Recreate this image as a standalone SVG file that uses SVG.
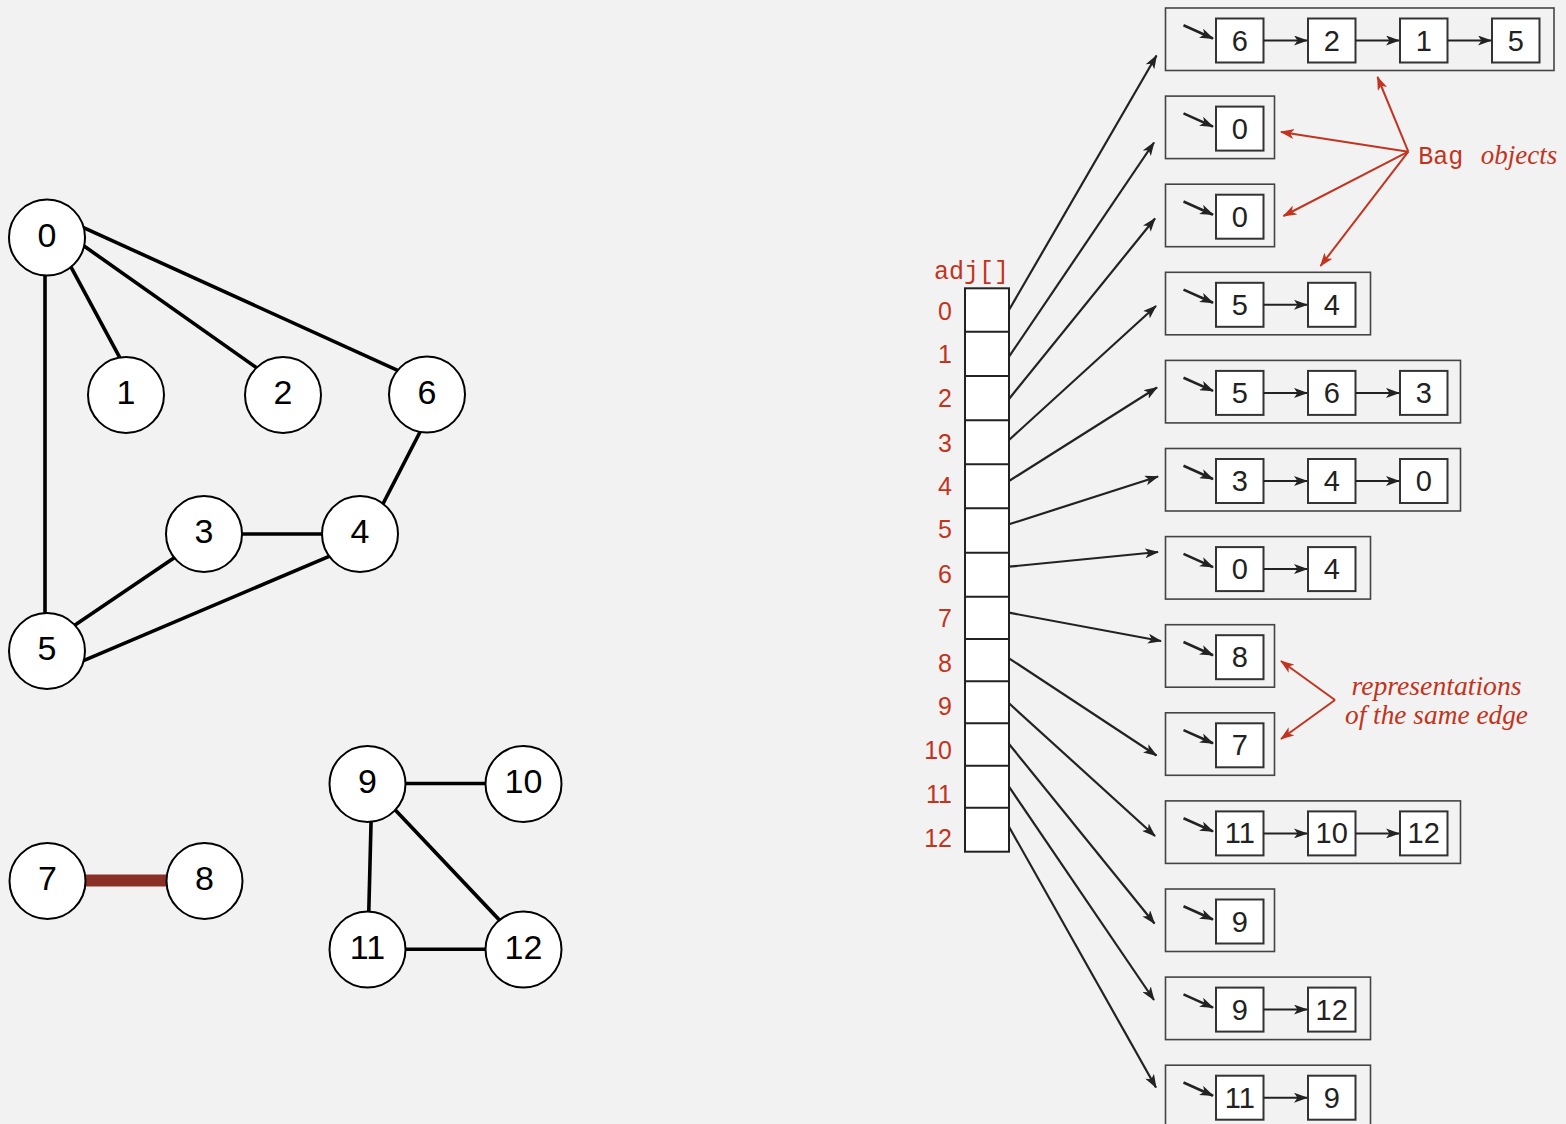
<svg xmlns="http://www.w3.org/2000/svg" width="1566" height="1124" viewBox="0 0 1566 1124">
<defs>
<marker id="ab" viewBox="0 0 14 10" refX="13" refY="5" markerWidth="14" markerHeight="10" orient="auto" markerUnits="userSpaceOnUse"><path d="M0,0 L14,5 L0,10 L3.5,5 z" fill="#222"/></marker>
<marker id="ar" viewBox="0 0 14 10" refX="13" refY="5" markerWidth="14" markerHeight="10" orient="auto" markerUnits="userSpaceOnUse"><path d="M0,0 L14,5 L0,10 L3.5,5 z" fill="#c23420"/></marker>
<style>
.edge{stroke:#000;stroke-width:3.6;fill:none}
.nc{fill:#fff;stroke:#000;stroke-width:2}
.nl{font-family:"Liberation Sans",Arial,sans-serif;font-size:34px;text-anchor:middle;fill:#000}
.cell{fill:#fff;stroke:#222;stroke-width:2}
.idx{font-family:"Liberation Sans",Arial,sans-serif;font-size:25px;text-anchor:end;fill:#c23420}
.mono{font-family:"Liberation Mono","Courier New",monospace;font-size:25px;fill:#c23420}
.it{font-family:"Liberation Serif","Times New Roman",serif;font-style:italic;font-size:27px;fill:#c23420}
.conn{stroke:#222;stroke-width:2.2;fill:none;marker-end:url(#ab)}
.red{stroke:#c23420;stroke-width:2;fill:none;marker-end:url(#ar)}
.outer{fill:none;stroke:#444;stroke-width:1.6}
.box{fill:#fff;stroke:#333;stroke-width:2}
.bt{font-family:"Liberation Sans",Arial,sans-serif;font-size:29px;text-anchor:middle;fill:#222}
.in{stroke:#222;stroke-width:2;fill:none;marker-end:url(#ab)}
.ent{stroke:#222;stroke-width:2.6;fill:none;marker-end:url(#ab)}
</style>
</defs>
<rect x="0" y="0" width="1566" height="1124" fill="#f2f2f2"/>

<g id="graph-edges">
<line class="edge" x1="64.6" y1="255.1" x2="126.4" y2="369.9"/>
<line class="edge" x1="72.7" y1="238" x2="267.3" y2="375.4"/>
<line class="edge" x1="71.4" y1="222.1" x2="410.3" y2="376.2"/>
<line class="edge" x1="45" y1="260" x2="45" y2="630"/>
<line class="edge" x1="426.2" y1="420" x2="376.4" y2="516.6"/>
<line class="edge" x1="230" y1="534" x2="335" y2="534"/>
<line class="edge" x1="185.7" y1="549.9" x2="63.6" y2="632.7"/>
<line class="edge" x1="342.1" y1="550.8" x2="71.2" y2="665.9"/>
<line x1="65" y1="880.5" x2="185" y2="880.5" stroke="#8b3026" stroke-width="12"/>
<line class="edge" x1="390" y1="783.5" x2="500" y2="783.5"/>
<line class="edge" x1="371.4" y1="808" x2="368.4" y2="927"/>
<line class="edge" x1="385.6" y1="799.8" x2="509.7" y2="930.9"/>
<line class="edge" x1="390" y1="949.3" x2="500" y2="949.3"/>
</g>

<g id="v0"><circle class="nc" cx="47" cy="237.5" r="38"/><text class="nl" x="47" y="246.5">0</text></g>
<g id="v1"><circle class="nc" cx="126" cy="395" r="38"/><text class="nl" x="126" y="404">1</text></g>
<g id="v2"><circle class="nc" cx="283" cy="395" r="38"/><text class="nl" x="283" y="404">2</text></g>
<g id="v6"><circle class="nc" cx="427" cy="394.5" r="38"/><text class="nl" x="427" y="403.5">6</text></g>
<g id="v3"><circle class="nc" cx="204" cy="534" r="38"/><text class="nl" x="204" y="543">3</text></g>
<g id="v4"><circle class="nc" cx="360" cy="534" r="38"/><text class="nl" x="360" y="543">4</text></g>
<g id="v5"><circle class="nc" cx="47" cy="651" r="38"/><text class="nl" x="47" y="660">5</text></g>
<g id="v7"><circle class="nc" cx="47.5" cy="881" r="38"/><text class="nl" x="47.5" y="890">7</text></g>
<g id="v8"><circle class="nc" cx="204.5" cy="881" r="38"/><text class="nl" x="204.5" y="890">8</text></g>
<g id="v9"><circle class="nc" cx="367.5" cy="784" r="38"/><text class="nl" x="367.5" y="793">9</text></g>
<g id="v10"><circle class="nc" cx="523.5" cy="784" r="38"/><text class="nl" x="523.5" y="793">10</text></g>
<g id="v11"><circle class="nc" cx="367.5" cy="949.5" r="38"/><text class="nl" x="367.5" y="958.5">11</text></g>
<g id="v12"><circle class="nc" cx="523.5" cy="949.5" r="38"/><text class="nl" x="523.5" y="958.5">12</text></g>

<g id="adj">
<text class="mono" x="934" y="278.5" font-size="24.5">adj[]</text>
<rect class="cell" x="965" y="288.3" width="44" height="563.4"/>
<path d="M965,331.7H1009M965,376H1009M965,420.3H1009M965,464.3H1009M965,508.3H1009M965,552.7H1009M965,596.7H1009M965,639H1009M965,681.3H1009M965,723.3H1009M965,765.7H1009M965,807.7H1009" stroke="#222" stroke-width="2" fill="none"/>
<text class="idx" x="952" y="320">0</text>
<text class="idx" x="952" y="363">1</text>
<text class="idx" x="952" y="407">2</text>
<text class="idx" x="952" y="451.7">3</text>
<text class="idx" x="952" y="495">4</text>
<text class="idx" x="952" y="538.3">5</text>
<text class="idx" x="952" y="583">6</text>
<text class="idx" x="952" y="626.7">7</text>
<text class="idx" x="952" y="671.7">8</text>
<text class="idx" x="952" y="715">9</text>
<text class="idx" x="952" y="759.3">10</text>
<text class="idx" x="952" y="803.3">11</text>
<text class="idx" x="952" y="846.7">12</text>
</g>

<g id="connectors">
<path class="conn" d="M1009,310 L1156.5,55.5"/>
<path class="conn" d="M1009,356.7 L1154,142.5"/>
<path class="conn" d="M1009,399 L1155,218.5"/>
<path class="conn" d="M1009,440 L1156,306"/>
<path class="conn" d="M1009,481 L1157,387.5"/>
<path class="conn" d="M1009,524.3 L1158,476.5"/>
<path class="conn" d="M1009,566.7 L1158,552"/>
<path class="conn" d="M1009,612.7 L1161,641"/>
<path class="conn" d="M1009,658.3 L1156.5,755.5"/>
<path class="conn" d="M1009,703.3 L1155,836"/>
<path class="conn" d="M1009,744 L1154.5,923.5"/>
<path class="conn" d="M1009,786.7 L1154,1000"/>
<path class="conn" d="M1009,826.7 L1156,1087.5"/>
<path class="red" d="M1408.3,151.7 L1377.5,77"/>
<path class="red" d="M1408.3,151.7 L1281,132"/>
<path class="red" d="M1408.3,151.7 L1283.5,216"/>
<path class="red" d="M1408.3,151.7 L1320.5,266"/>
<path class="red" d="M1335,700 L1281,661"/>
<path class="red" d="M1335,700 L1281,739"/>
</g>

<g id="bag0" transform="translate(0,8)">
<rect class="outer" x="1165.5" y="0" width="388.5" height="62.5"/>
<path class="ent" d="M1183.5,17.3 L1213,30.5"/>
<rect class="box" x="1216" y="10.5" width="47.5" height="44"/><text class="bt" x="1239.75" y="42.5">6</text>
<rect class="box" x="1308" y="10.5" width="47.5" height="44"/><text class="bt" x="1331.75" y="42.5">2</text>
<rect class="box" x="1400" y="10.5" width="47.5" height="44"/><text class="bt" x="1423.75" y="42.5">1</text>
<rect class="box" x="1492" y="10.5" width="47.5" height="44"/><text class="bt" x="1515.75" y="42.5">5</text>
<path class="in" d="M1263.5,32.5H1307"/><path class="in" d="M1355.5,32.5H1399"/><path class="in" d="M1447.5,32.5H1491"/>
</g>
<g id="bag1" transform="translate(0,96.1)">
<rect class="outer" x="1165.5" y="0" width="109" height="62.5"/>
<path class="ent" d="M1183.5,17.3 L1213,30.5"/>
<rect class="box" x="1216" y="10.5" width="47.5" height="44"/><text class="bt" x="1239.75" y="42.5">0</text>
</g>
<g id="bag2" transform="translate(0,184.2)">
<rect class="outer" x="1165.5" y="0" width="109" height="62.5"/>
<path class="ent" d="M1183.5,17.3 L1213,30.5"/>
<rect class="box" x="1216" y="10.5" width="47.5" height="44"/><text class="bt" x="1239.75" y="42.5">0</text>
</g>
<g id="bag3" transform="translate(0,272.3)">
<rect class="outer" x="1165.5" y="0" width="205" height="62.5"/>
<path class="ent" d="M1183.5,17.3 L1213,30.5"/>
<rect class="box" x="1216" y="10.5" width="47.5" height="44"/><text class="bt" x="1239.75" y="42.5">5</text>
<rect class="box" x="1308" y="10.5" width="47.5" height="44"/><text class="bt" x="1331.75" y="42.5">4</text>
<path class="in" d="M1263.5,32.5H1307"/>
</g>
<g id="bag4" transform="translate(0,360.4)">
<rect class="outer" x="1165.5" y="0" width="295" height="62.5"/>
<path class="ent" d="M1183.5,17.3 L1213,30.5"/>
<rect class="box" x="1216" y="10.5" width="47.5" height="44"/><text class="bt" x="1239.75" y="42.5">5</text>
<rect class="box" x="1308" y="10.5" width="47.5" height="44"/><text class="bt" x="1331.75" y="42.5">6</text>
<rect class="box" x="1400" y="10.5" width="47.5" height="44"/><text class="bt" x="1423.75" y="42.5">3</text>
<path class="in" d="M1263.5,32.5H1307"/><path class="in" d="M1355.5,32.5H1399"/>
</g>
<g id="bag5" transform="translate(0,448.5)">
<rect class="outer" x="1165.5" y="0" width="295" height="62.5"/>
<path class="ent" d="M1183.5,17.3 L1213,30.5"/>
<rect class="box" x="1216" y="10.5" width="47.5" height="44"/><text class="bt" x="1239.75" y="42.5">3</text>
<rect class="box" x="1308" y="10.5" width="47.5" height="44"/><text class="bt" x="1331.75" y="42.5">4</text>
<rect class="box" x="1400" y="10.5" width="47.5" height="44"/><text class="bt" x="1423.75" y="42.5">0</text>
<path class="in" d="M1263.5,32.5H1307"/><path class="in" d="M1355.5,32.5H1399"/>
</g>
<g id="bag6" transform="translate(0,536.6)">
<rect class="outer" x="1165.5" y="0" width="205" height="62.5"/>
<path class="ent" d="M1183.5,17.3 L1213,30.5"/>
<rect class="box" x="1216" y="10.5" width="47.5" height="44"/><text class="bt" x="1239.75" y="42.5">0</text>
<rect class="box" x="1308" y="10.5" width="47.5" height="44"/><text class="bt" x="1331.75" y="42.5">4</text>
<path class="in" d="M1263.5,32.5H1307"/>
</g>
<g id="bag7" transform="translate(0,624.7)">
<rect class="outer" x="1165.5" y="0" width="109" height="62.5"/>
<path class="ent" d="M1183.5,17.3 L1213,30.5"/>
<rect class="box" x="1216" y="10.5" width="47.5" height="44"/><text class="bt" x="1239.75" y="42.5">8</text>
</g>
<g id="bag8" transform="translate(0,712.8)">
<rect class="outer" x="1165.5" y="0" width="109" height="62.5"/>
<path class="ent" d="M1183.5,17.3 L1213,30.5"/>
<rect class="box" x="1216" y="10.5" width="47.5" height="44"/><text class="bt" x="1239.75" y="42.5">7</text>
</g>
<g id="bag9" transform="translate(0,800.9)">
<rect class="outer" x="1165.5" y="0" width="295" height="62.5"/>
<path class="ent" d="M1183.5,17.3 L1213,30.5"/>
<rect class="box" x="1216" y="10.5" width="47.5" height="44"/><text class="bt" x="1239.75" y="42.5">11</text>
<rect class="box" x="1308" y="10.5" width="47.5" height="44"/><text class="bt" x="1331.75" y="42.5">10</text>
<rect class="box" x="1400" y="10.5" width="47.5" height="44"/><text class="bt" x="1423.75" y="42.5">12</text>
<path class="in" d="M1263.5,32.5H1307"/><path class="in" d="M1355.5,32.5H1399"/>
</g>
<g id="bag10" transform="translate(0,889)">
<rect class="outer" x="1165.5" y="0" width="109" height="62.5"/>
<path class="ent" d="M1183.5,17.3 L1213,30.5"/>
<rect class="box" x="1216" y="10.5" width="47.5" height="44"/><text class="bt" x="1239.75" y="42.5">9</text>
</g>
<g id="bag11" transform="translate(0,977.1)">
<rect class="outer" x="1165.5" y="0" width="205" height="62.5"/>
<path class="ent" d="M1183.5,17.3 L1213,30.5"/>
<rect class="box" x="1216" y="10.5" width="47.5" height="44"/><text class="bt" x="1239.75" y="42.5">9</text>
<rect class="box" x="1308" y="10.5" width="47.5" height="44"/><text class="bt" x="1331.75" y="42.5">12</text>
<path class="in" d="M1263.5,32.5H1307"/>
</g>
<g id="bag12" transform="translate(0,1065.2)">
<rect class="outer" x="1165.5" y="0" width="205" height="62.5"/>
<path class="ent" d="M1183.5,17.3 L1213,30.5"/>
<rect class="box" x="1216" y="10.5" width="47.5" height="44"/><text class="bt" x="1239.75" y="42.5">11</text>
<rect class="box" x="1308" y="10.5" width="47.5" height="44"/><text class="bt" x="1331.75" y="42.5">9</text>
<path class="in" d="M1263.5,32.5H1307"/>
</g>

<g id="labels">
<text class="mono" x="1418.3" y="164">Bag</text>
<text class="it" x="1480.7" y="164" font-size="26">objects</text>
<text class="it" x="1436.5" y="695" text-anchor="middle" font-size="24" textLength="170" lengthAdjust="spacingAndGlyphs">representations</text>
<text class="it" x="1436.5" y="723.5" text-anchor="middle" font-size="24" textLength="183" lengthAdjust="spacingAndGlyphs">of the same edge</text>
</g>
</svg>
